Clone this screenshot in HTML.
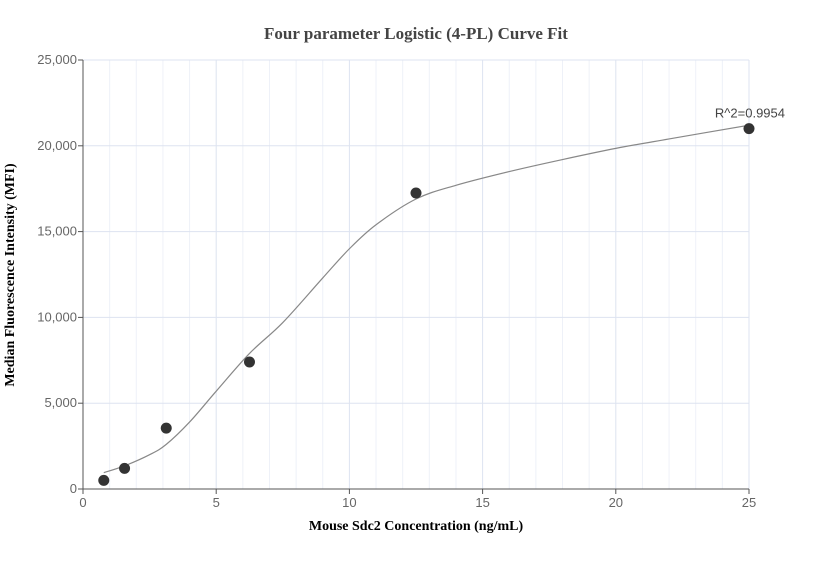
<!DOCTYPE html>
<html><head><meta charset="utf-8"><style>
body{margin:0;background:#fff;width:832px;height:560px;overflow:hidden}
svg text{font-family:"Liberation Sans",sans-serif}
</style></head><body>
<svg id="chart" width="832" height="560" xmlns="http://www.w3.org/2000/svg">
<text x="416" y="39" text-anchor="middle" style="font-family:'Liberation Serif',serif;font-weight:bold;font-size:17px;fill:#444">Four parameter Logistic (4-PL) Curve Fit</text>
<text x="416" y="530" text-anchor="middle" style="font-family:'Liberation Serif',serif;font-weight:bold;font-size:14px;fill:#000">Mouse Sdc2 Concentration (ng/mL)</text>
<text transform="translate(14,275) rotate(-90)" text-anchor="middle" style="font-family:'Liberation Serif',serif;font-weight:bold;font-size:14px;fill:#000">Median Fluorescence Intensity (MFI)</text>
<g id="grid"></g><g id="axes"></g><g id="marks"></g>
</svg>
<script>
const xTicks=[0,5,10,15,20,25];
const yTicks=[0,5000,10000,15000,20000,25000];
const xData=[0.78,1.56,3.125,6.25,12.5,25];
const yData=[500,1200,3550,7400,17250,21000];
const curveX=[0.78,1.56,2.5,3.125,4,5,6.25,7.5,9,10,11,12.5,14,16,18,20,22,25];
const curveY=[950,1350,2000,2600,3900,5700,7900,9700,12300,14000,15400,16900,17700,18500,19200,19850,20400,21200];
const r2Label="R^2=0.9954";
const X0=83,X1=749,Y0=489,Y1=60;
const sx=v=>X0+(v/25)*(X1-X0), sy=v=>Y0-(v/25000)*(Y0-Y1);
const NS="http://www.w3.org/2000/svg";
function mk(t,a,p){const e=document.createElementNS(NS,t);for(const k in a)e.setAttribute(k,a[k]);p.appendChild(e);return e;}
const grid=document.getElementById('grid'),axes=document.getElementById('axes'),marks=document.getElementById('marks');
for(let i=1;i<=25;i++){
 const l=mk('line',{x1:sx(i),x2:sx(i),y1:Y1,y2:Y0,stroke:i%5?'#eef1f8':'#dde3f0','stroke-width':1},grid);
 
 
}
yTicks.forEach(v=>{
 if(v>0){const l=mk('line',{x1:X0,x2:X1,y1:sy(v),y2:sy(v),stroke:'#dde3f0','stroke-width':1},grid);
 
 }
 const t=mk('line',{x1:X0-5,x2:X0,y1:sy(v),y2:sy(v),stroke:'#555'},axes);
 
 
 const tx=mk('text',{x:X0-6,y:sy(v)+4,'text-anchor':'end','font-size':13,fill:'#666'},axes);
 tx.textContent=v.toLocaleString('en-US');
 
 
});
xTicks.forEach(v=>{
 const t=mk('line',{x1:sx(v),x2:sx(v),y1:Y0,y2:Y0+5,stroke:'#555'},axes);
 
 
 const tx=mk('text',{x:sx(v),y:Y0+18,'text-anchor':'middle','font-size':13,fill:'#666'},axes);
 tx.textContent=v;
 
 
});
const ya=mk('line',{x1:X0,x2:X0,y1:Y1,y2:Y0,stroke:'#555'},axes);


const xa=mk('line',{x1:X0,x2:X1,y1:Y0,y2:Y0,stroke:'#555'},axes);


const P=curveX.map((x,i)=>[sx(x),sy(curveY[i])]);
let d='M'+P[0][0]+','+P[0][1];
for(let i=0;i<P.length-1;i++){
 const p0=P[i-1]||P[i],p1=P[i],p2=P[i+1],p3=P[i+2]||P[i+1];
 d+=` C${p1[0]+(p2[0]-p0[0])/6},${p1[1]+(p2[1]-p0[1])/6} ${p2[0]-(p3[0]-p1[0])/6},${p2[1]-(p3[1]-p1[1])/6} ${p2[0]},${p2[1]}`;
}
const c=mk('path',{d:d,fill:'none',stroke:'#888','stroke-width':1.2},marks);


xData.forEach((x,i)=>{
 const p=mk('circle',{cx:sx(x),cy:sy(yData[i]),r:5.5,fill:'#333'},marks);
 
 
});
const r=mk('text',{x:sx(25)+36,y:sy(21000)-11,'text-anchor':'end','font-size':13,fill:'#444'},marks);
r.textContent=r2Label;


</script>
</body></html>
